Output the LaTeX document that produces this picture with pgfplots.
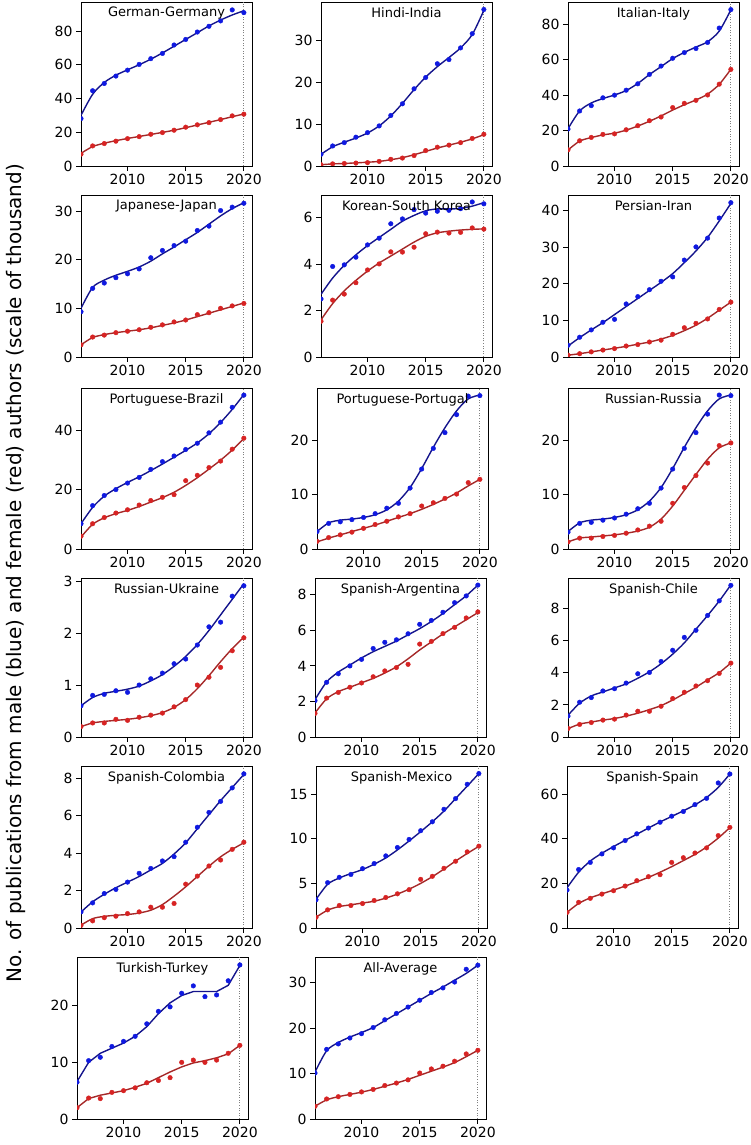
\documentclass[border=0pt]{standalone}
\usepackage{pgfplots}
\usepackage{pgfplotstable}
\pgfplotsset{compat=1.18}
\usepackage{fontspec}
\setmainfont{DejaVu Sans}
\definecolor{bpt}{RGB}{15,25,225}
\definecolor{bln}{RGB}{20,20,140}
\definecolor{rpt}{RGB}{215,35,35}
\definecolor{rln}{RGB}{165,40,40}
\newcommand{\tickfont}{\fontsize{14}{16}\selectfont}
\newcommand{\titlefont}{\fontsize{13}{15}\selectfont}

\pgfplotstableread{
year bp bl rp rl
2006 28.1 30.0 7.0 7.5
2007 44.6 42.5 11.9 11.5
2008 48.9 49.5 13.3 13.5
2009 53.3 53.8 14.7 15.0
2010 56.8 57.0 16.2 16.3
2011 60.2 60.0 17.4 17.5
2012 63.6 63.3 18.8 18.7
2013 66.7 67.0 19.8 19.9
2014 71.7 71.0 21.2 21.2
2015 75.0 75.0 23.0 22.7
2016 79.4 79.0 24.4 24.3
2017 82.8 83.0 25.7 25.9
2018 86.0 86.5 27.5 27.5
2019 92.5 89.5 29.7 29.2
2020 90.9 92.0 30.7 30.8
}\tGermany
\pgfplotstableread{
year bp bl rp rl
2006 2.8 2.8 0.3 0.3
2007 4.8 4.6 0.5 0.5
2008 5.6 5.7 0.6 0.6
2009 6.9 6.7 0.7 0.75
2010 8.0 7.9 0.8 0.9
2011 9.6 9.6 1.1 1.1
2012 12.1 12.0 1.6 1.5
2013 14.9 15.0 1.9 2.0
2014 18.5 18.3 2.5 2.7
2015 21.2 21.3 3.7 3.5
2016 24.5 23.8 4.5 4.3
2017 25.5 26.0 5.0 5.0
2018 28.3 28.3 5.6 5.7
2019 31.7 31.5 6.6 6.5
2020 37.5 37.3 7.6 7.5
}\tIndia
\pgfplotstableread{
year bp bl rp rl
2006 20.8 21.0 9.1 9.0
2007 31.0 31.0 14.2 14.0
2008 34.0 35.5 16.1 16.0
2009 38.4 38.0 17.8 17.5
2010 39.9 40.0 18.1 18.5
2011 42.7 42.5 20.4 20.2
2012 46.3 46.5 22.7 22.5
2013 51.6 51.5 25.5 25.2
2014 56.3 56.0 27.6 28.2
2015 60.7 60.5 32.9 31.5
2016 63.9 64.0 35.3 34.5
2017 66.2 67.0 37.0 37.2
2018 69.6 70.0 40.0 40.5
2019 77.7 76.0 46.1 46.0
2020 88.1 88.0 54.4 54.5
}\tItaly
\pgfplotstableread{
year bp bl rp rl
2006 9.3 10.0 2.5 2.5
2007 14.1 14.3 4.1 4.0
2008 15.2 15.8 4.5 4.6
2009 16.3 16.8 5.0 5.0
2010 17.1 17.6 5.3 5.3
2011 18.1 18.5 5.6 5.6
2012 20.4 19.7 6.1 6.0
2013 21.9 21.2 6.6 6.5
2014 22.9 22.6 7.2 7.0
2015 23.8 24.1 7.6 7.6
2016 26.0 25.6 8.7 8.3
2017 26.9 27.3 9.1 9.0
2018 30.1 29.0 10.0 9.7
2019 30.8 30.5 10.5 10.4
2020 31.6 31.7 11.0 11.1
}\tJapan
\pgfplotstableread{
year bp bl rp rl
2006 2.50 2.70 1.54 1.60
2007 3.90 3.40 2.45 2.30
2008 3.97 3.95 2.71 2.85
2009 4.30 4.40 3.20 3.30
2010 4.83 4.80 3.75 3.70
2011 5.12 5.15 4.01 4.05
2012 5.74 5.50 4.53 4.35
2013 5.95 5.85 4.52 4.65
2014 6.35 6.10 4.73 4.95
2015 6.20 6.30 5.31 5.20
2016 6.28 6.38 5.38 5.35
2017 6.32 6.38 5.34 5.42
2018 6.39 6.40 5.37 5.47
2019 6.68 6.50 5.56 5.50
2020 6.60 6.65 5.51 5.52
}\tKorea
\pgfplotstableread{
year bp bl rp rl
2006 3.2 3.0 0.5 0.5
2007 5.4 5.3 0.9 0.9
2008 7.4 7.4 1.4 1.4
2009 9.5 9.4 1.9 1.9
2010 10.3 11.6 2.3 2.4
2011 14.5 13.8 3.0 2.9
2012 16.5 16.0 3.4 3.5
2013 18.4 18.2 4.1 4.1
2014 20.7 20.4 4.6 4.9
2015 21.9 22.8 6.2 5.9
2016 26.5 25.8 8.0 7.2
2017 30.1 29.0 9.2 8.7
2018 32.5 32.7 10.4 10.6
2019 38.0 37.2 13.0 12.8
2020 42.2 42.0 15.0 15.0
}\tIran
\pgfplotstableread{
year bp bl rp rl
2006 8.5 8.5 4.3 4.0
2007 14.6 14.0 8.5 8.3
2008 18.0 17.8 10.6 10.5
2009 20.0 20.3 12.1 11.9
2010 22.2 22.4 13.2 13.0
2011 24.1 24.3 14.8 14.3
2012 26.8 26.4 16.3 15.8
2013 29.4 28.6 17.4 17.3
2014 31.3 30.9 18.3 19.1
2015 33.5 33.2 23.0 21.4
2016 35.6 35.7 24.8 24.0
2017 39.1 38.8 27.4 26.9
2018 42.7 42.6 29.6 29.9
2019 47.7 47.0 33.6 33.3
2020 51.8 52.0 37.3 37.2
}\tBrazil
\pgfplotstableread{
year bp bl rp rl
2006 3.2 3.2 1.4 1.3
2007 4.7 4.8 2.1 2.0
2008 5.0 5.3 2.6 2.6
2009 5.4 5.5 3.1 3.2
2010 5.8 5.8 3.8 3.8
2011 6.5 6.3 4.5 4.4
2012 7.5 7.2 5.1 5.1
2013 8.4 8.8 5.9 5.8
2014 11.2 11.3 6.5 6.5
2015 14.7 14.8 7.9 7.3
2016 18.5 18.7 8.5 8.2
2017 21.4 22.3 9.3 9.2
2018 24.7 25.4 10.1 10.3
2019 28.1 27.6 12.2 11.6
2020 28.2 28.3 12.8 12.8
}\tPortugal
\pgfplotstableread{
year bp bl rp rl
2006 3.1 3.2 1.3 1.3
2007 4.7 4.8 2.0 2.0
2008 4.9 5.3 2.0 2.2
2009 5.3 5.5 2.3 2.4
2010 5.7 5.8 2.5 2.6
2011 6.4 6.3 2.9 2.9
2012 7.4 7.2 3.5 3.3
2013 8.4 8.8 4.2 4.0
2014 11.2 11.3 5.1 5.5
2015 14.7 14.8 8.4 7.9
2016 18.5 18.7 11.3 10.8
2017 21.4 22.3 13.5 13.7
2018 24.8 25.4 15.8 16.5
2019 28.3 27.6 19.0 18.6
2020 28.2 28.3 19.5 19.5
}\tRussia
\pgfplotstableread{
year bp bl rp rl
2006 0.60 0.60 0.20 0.20
2007 0.80 0.76 0.27 0.27
2008 0.82 0.84 0.27 0.30
2009 0.89 0.88 0.34 0.32
2010 0.86 0.92 0.32 0.34
2011 1.00 0.98 0.38 0.37
2012 1.12 1.08 0.42 0.41
2013 1.23 1.20 0.46 0.47
2014 1.41 1.36 0.58 0.57
2015 1.50 1.55 0.72 0.72
2016 1.77 1.78 1.00 0.93
2017 2.12 2.05 1.15 1.18
2018 2.21 2.35 1.34 1.45
2019 2.71 2.65 1.66 1.70
2020 2.91 2.95 1.91 1.92
}\tUkraine
\pgfplotstableread{
year bp bl rp rl
2006 2.05 2.10 1.33 1.35
2007 3.08 3.10 2.19 2.15
2008 3.56 3.65 2.51 2.55
2009 4.00 4.05 2.80 2.80
2010 4.37 4.45 3.04 3.05
2011 4.98 4.80 3.39 3.30
2012 5.33 5.10 3.72 3.60
2013 5.47 5.40 3.91 3.95
2014 5.81 5.75 4.09 4.40
2015 6.34 6.10 5.23 4.90
2016 6.56 6.50 5.38 5.35
2017 7.02 6.95 5.82 5.80
2018 7.56 7.45 6.17 6.20
2019 7.94 7.95 6.70 6.60
2020 8.55 8.55 7.04 7.00
}\tArgentina
\pgfplotstableread{
year bp bl rp rl
2006 1.30 1.35 0.53 0.52
2007 2.16 2.10 0.78 0.80
2008 2.45 2.55 0.90 0.93
2009 2.86 2.80 1.05 1.05
2010 3.00 3.05 1.11 1.15
2011 3.35 3.30 1.36 1.30
2012 3.93 3.65 1.60 1.48
2013 4.01 4.05 1.60 1.70
2014 4.69 4.55 1.91 1.95
2015 5.39 5.15 2.39 2.30
2016 6.19 5.85 2.78 2.70
2017 6.63 6.70 3.17 3.10
2018 7.55 7.55 3.50 3.55
2019 8.46 8.45 3.95 4.00
2020 9.42 9.45 4.59 4.60
}\tChile
\pgfplotstableread{
year bp bl rp rl
2006 0.86 0.85 0.14 0.15
2007 1.34 1.40 0.38 0.50
2008 1.84 1.80 0.55 0.62
2009 2.06 2.15 0.63 0.68
2010 2.45 2.45 0.77 0.72
2011 2.92 2.75 0.86 0.80
2012 3.18 3.10 1.11 0.95
2013 3.58 3.45 1.11 1.25
2014 3.81 3.95 1.31 1.70
2015 4.58 4.55 2.34 2.20
2016 5.38 5.30 2.77 2.75
2017 6.17 6.05 3.31 3.30
2018 6.76 6.80 3.63 3.80
2019 7.48 7.50 4.20 4.20
2020 8.23 8.20 4.58 4.55
}\tColombia
\pgfplotstableread{
year bp bl rp rl
2006 3.16 3.20 1.20 1.20
2007 5.08 4.90 2.03 2.00
2008 5.68 5.60 2.52 2.40
2009 6.00 6.10 2.52 2.60
2010 6.65 6.55 2.74 2.80
2011 7.22 7.15 3.08 3.00
2012 8.08 7.85 3.42 3.35
2013 9.02 8.75 3.83 3.80
2014 9.92 9.75 4.29 4.35
2015 10.9 10.8 5.45 5.00
2016 11.9 11.9 5.79 5.75
2017 13.3 13.1 6.69 6.60
2018 14.5 14.5 7.48 7.50
2019 16.1 15.9 8.53 8.35
2020 17.3 17.3 9.17 9.15
}\tMexico
\pgfplotstableread{
year bp bl rp rl
2006 17.0 18.0 7.0 7.0
2007 26.2 25.0 11.5 11.0
2008 29.4 30.0 13.3 13.5
2009 33.2 33.5 15.2 15.3
2010 35.9 36.5 16.7 17.0
2011 39.2 39.3 18.8 18.8
2012 42.2 42.0 21.2 20.7
2013 44.8 44.8 23.0 22.7
2014 47.4 47.5 23.9 25.0
2015 50.1 50.0 29.4 27.5
2016 52.2 52.5 31.5 30.2
2017 55.3 55.2 33.6 33.0
2018 58.1 58.5 35.9 36.3
2019 65.0 63.0 41.4 40.3
2020 69.0 69.0 45.1 45.0
}\tSpain
\pgfplotstableread{
year bp bl rp rl
2006 6.5 6.6 2.0 2.0
2007 10.3 10.0 3.7 3.6
2008 10.9 11.6 3.6 4.2
2009 12.8 12.5 4.7 4.6
2010 13.7 13.4 5.0 5.0
2011 14.6 14.6 5.5 5.6
2012 16.8 16.3 6.4 6.3
2013 19.0 18.6 6.8 7.3
2014 19.8 20.5 7.3 8.3
2015 22.2 21.8 10.0 9.2
2016 23.5 22.5 10.4 9.9
2017 21.6 22.5 10.0 10.3
2018 21.9 22.5 10.4 10.8
2019 24.4 23.6 11.6 11.5
2020 27.2 27.1 13.0 13.0
}\tTurkey
\pgfplotstableread{
year bp bl rp rl
2006 10.1 10.3 2.8 2.8
2007 15.3 15.0 4.4 4.2
2008 16.5 16.8 4.9 4.9
2009 17.8 18.0 5.4 5.4
2010 18.75 19.0 5.95 5.9
2011 20.1 20.1 6.5 6.5
2012 21.8 21.6 7.35 7.2
2013 23.2 23.1 7.9 7.9
2014 24.6 24.6 8.6 8.7
2015 26.1 26.1 10.1 9.6
2016 27.8 27.6 11.0 10.5
2017 28.8 29.0 11.6 11.4
2018 30.1 30.5 12.7 12.4
2019 32.9 32.0 14.3 13.7
2020 33.8 33.8 15.1 15.1
}\tAverage

\pgfplotsset{
  panelbase/.style={
    anchor=south west, width=171pt, scale only axis,
    xmin=2006, xmax=2020.7, ymin=0,
    xtick={2010,2015,2020}, xticklabels={2010,2015,2020},
    tick align=outside, tick pos=left, major tick length=5pt,
    tick style={black, line width=0.9pt},
    axis line style={line width=0.9pt},
    ticklabel style={font=\tickfont},
    /pgf/number format/assume math mode=true,
    scaled y ticks=false,
    clip marker paths=true,
  }
}
% #1 left, #2 bottom, #3 height, #4 ymax, #5 yticks, #6 title, #7 table, #8 line style
\newcommand{\panel}[8]{%
\begin{axis}[panelbase, at={(#1pt,#2pt)}, height=#3pt, ymax=#4, ytick={#5}]
\addplot[gray, line width=0.9pt, dash pattern=on 1pt off 1.6pt] coordinates {(2020,0) (2020,#4)};
\addplot[bln, line width=1.4pt, #8] table[x=year,y=bl]{#7};
\addplot[rln, line width=1.4pt, #8] table[x=year,y=rl]{#7};
\addplot[only marks, mark=*, mark size=2.3pt, bpt, mark options={draw=none, fill=bpt}] table[x=year,y=bp]{#7};
\addplot[only marks, mark=*, mark size=2.3pt, rpt, mark options={draw=none, fill=rpt}] table[x=year,y=rp]{#7};
\node[anchor=north, font=\titlefont, inner sep=0pt, yshift=-5pt] at (rel axis cs:0.5,1) {#6};
\end{axis}}

\begin{document}
\begin{tikzpicture}
\path[use as bounding box] (0,0) rectangle (750pt,1145pt);
\node[rotate=90, anchor=base, inner sep=0pt, font=\fontsize{20}{24}\selectfont] at (21.7pt,572pt)
  {No. of publications from male (blue) and female (red) authors (scale of thousand)};
% row 1
\panel{81}{979}{164}{97.2}{0,20,40,60,80}{German-Germany}{\tGermany}{smooth}
\panel{321}{979}{164}{39.3}{0,10,20,30}{Hindi-India}{\tIndia}{smooth}
\panel{568}{979}{164}{92.4}{0,20,40,60,80}{Italian-Italy}{\tItaly}{smooth}
% row 2
\panel{81}{788}{162}{33.3}{0,10,20,30}{Japanese-Japan}{\tJapan}{smooth}
\panel{321}{788}{162}{6.98}{0,2,4,6}{Korean-South Korea}{\tKorea}{smooth}
\panel{568}{788}{162}{44.3}{0,10,20,30,40}{Persian-Iran}{\tIran}{smooth}
% row 3
\panel{81}{596}{161}{54.2}{0,20,40}{Portuguese-Brazil}{\tBrazil}{smooth}
\panel{317}{596}{161}{29.6}{0,10,20}{Portuguese-Portugal}{\tPortugal}{smooth}
\panel{568}{596}{161}{29.6}{0,10,20}{Russian-Russia}{\tRussia}{smooth}
% row 4
\panel{81}{408}{159}{3.06}{0,1,2,3}{Russian-Ukraine}{\tUkraine}{smooth}
\panel{315}{408}{159}{8.95}{0,2,4,6,8}{Spanish-Argentina}{\tArgentina}{smooth}
\panel{568}{408}{159}{9.88}{0,2,4,6,8}{Spanish-Chile}{\tChile}{smooth}
% row 5
\panel{81}{217}{162}{8.65}{0,2,4,6,8}{Spanish-Colombia}{\tColombia}{smooth}
\panel{316}{217}{162}{18.15}{0,5,10,15}{Spanish-Mexico}{\tMexico}{smooth}
\panel{567}{217}{162}{72.6}{0,20,40,60}{Spanish-Spain}{\tSpain}{smooth}
% row 6
\panel{77}{26}{162}{28.6}{0,10,20}{Turkish-Turkey}{\tTurkey}{sharp plot}
\panel{315}{26}{162}{35.6}{0,10,20,30}{All-Average}{\tAverage}{smooth}
\end{tikzpicture}
\end{document}
